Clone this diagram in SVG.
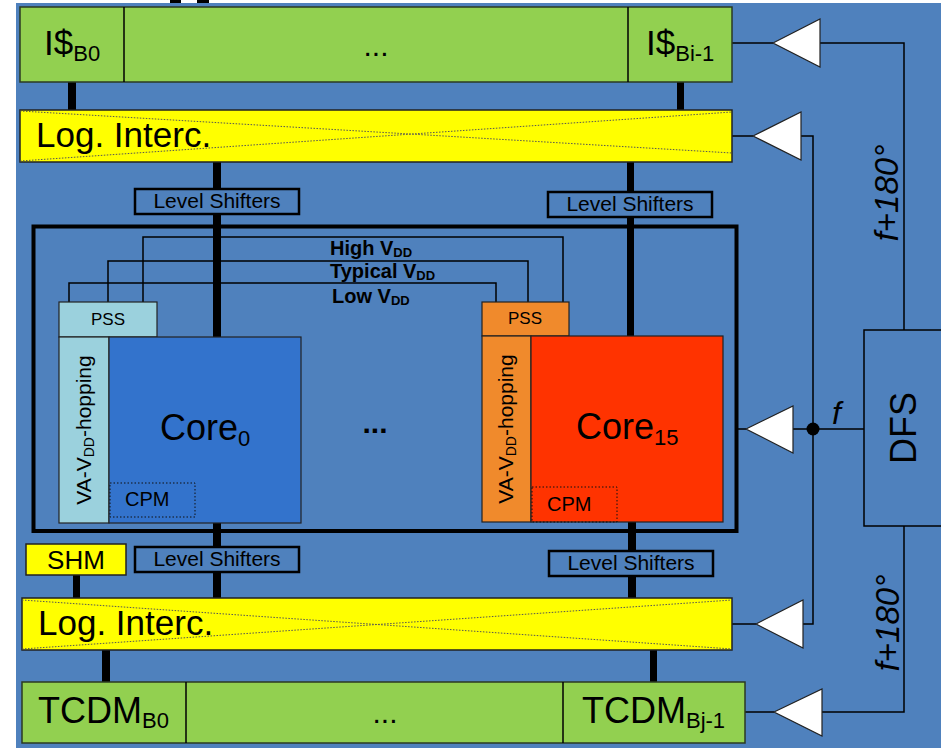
<svg xmlns="http://www.w3.org/2000/svg" width="941" height="748" viewBox="0 0 941 748">
<style>
text{font-family:"Liberation Sans",Arial,sans-serif;fill:#000}
.thin{stroke:#000;stroke-width:1.5;fill:none}
.bar{fill:#000}
.green{fill:#92d050;stroke:#2b3a22;stroke-width:1.5}
.yellow{fill:#ffff00;stroke:#222;stroke-width:1.5}
.dots{stroke:#555;stroke-width:1;stroke-dasharray:1.5 1.5;fill:none}
.ls{fill:#4f81bd;stroke:#000;stroke-width:2.5}
.tri{fill:#fff;stroke:#222;stroke-width:1.2}
.big{font-size:35px}
.sub{font-size:22px}
.lst{font-size:21px;text-anchor:middle}
.pw{font-size:20px;font-weight:bold}
.pws{font-size:13px;font-weight:bold}
.ital{font-style:italic;font-size:33px;text-anchor:middle}
</style>
<rect x="0" y="0" width="941" height="748" fill="#ffffff"/>
<rect x="16" y="3" width="925" height="745" fill="#4f81bd"/>
<rect x="170" y="0" width="11" height="3" fill="#000"/>
<rect x="197" y="0" width="12" height="3" fill="#000"/>

<g id="connectors">
  <rect class="bar" x="68" y="82" width="8" height="29"/>
  <rect class="bar" x="677" y="82" width="7" height="29"/>
  <rect class="bar" x="213" y="162" width="8" height="175"/>
  <rect class="bar" x="627" y="162" width="7" height="175"/>
  <rect class="bar" x="213" y="522" width="8" height="77"/>
  <rect class="bar" x="628" y="522" width="8" height="77"/>
  <rect class="bar" x="73" y="575" width="7" height="24"/>
  <rect class="bar" x="102" y="650" width="8" height="32"/>
  <rect class="bar" x="650" y="650" width="7" height="32"/>
  <polyline class="thin" points="69,302 69,283 496,283 496,302"/>
  <polyline class="thin" points="108,302 108,261 528,261 528,302"/>
  <polyline class="thin" points="143,302 143,237 563,237 563,302"/>
  <line class="thin" x1="732" y1="43" x2="773" y2="43"/>
  <polyline class="thin" points="820,43 904,43 904,330"/>
  <line class="thin" x1="732" y1="136" x2="753" y2="136"/>
  <polyline class="thin" points="801,136 813,136 813,624 803,624"/>
  <line class="thin" x1="732" y1="624" x2="756" y2="624"/>
  <line class="thin" x1="737" y1="429" x2="746" y2="429"/>
  <line class="thin" x1="793" y1="429" x2="864" y2="429"/>
  <circle cx="813" cy="429" r="6.5" fill="#000"/>
  <polyline class="thin" points="904,526 904,712 822,712"/>
  <line class="thin" x1="745" y1="712" x2="774" y2="712"/>
  <polygon class="tri" points="773,43 820,19 820,67"/>
  <polygon class="tri" points="753,136 801,112 801,160"/>
  <polygon class="tri" points="746,429 793,406 793,453"/>
  <polygon class="tri" points="756,624 803,600 803,648"/>
  <polygon class="tri" points="774,712 822,689 822,736"/>
  <text class="ital" transform="translate(898,193) rotate(-90)">f+180°</text>
  <text class="ital" transform="translate(899,623) rotate(-90)">f+180°</text>
  <text x="832" y="424" style="font-style:italic;font-size:32px">f</text>
</g>

<g id="icache">
  <rect class="green" x="20" y="7" width="712" height="75"/>
  <line class="thin" x1="124" y1="7" x2="124" y2="82" stroke="#2b3a22"/>
  <line class="thin" x1="628" y1="7" x2="628" y2="82" stroke="#2b3a22"/>
  <text class="big" x="44" y="55">I$<tspan class="sub" dy="6">B0</tspan></text>
  <text x="376" y="56" style="font-size:30px;text-anchor:middle">...</text>
  <text class="big" x="646" y="55">I$<tspan class="sub" dy="6">Bi-1</tspan></text>
</g>

<g id="logint-top">
  <rect class="yellow" x="20" y="110" width="712" height="52"/>
  <line class="dots" x1="20" y1="111" x2="732" y2="153"/>
  <line class="dots" x1="20" y1="161" x2="732" y2="112"/>
  <text class="big" x="36" y="147">Log. Interc.</text>
</g>

<g id="ls-top-left">
  <rect class="ls" x="135" y="189" width="164" height="25"/>
  <text class="lst" x="217" y="208">Level Shifters</text>
</g>
<g id="ls-top-right">
  <rect class="ls" x="548" y="192" width="164" height="25"/>
  <text class="lst" x="630" y="211">Level Shifters</text>
</g>

<g id="cluster">
  <rect x="33.5" y="226.5" width="703" height="304.5" fill="none" stroke="#000" stroke-width="4"/>
  <text class="pw" x="330" y="255">High V<tspan class="pws" dy="2">DD</tspan></text>
  <text class="pw" x="330" y="278">Typical V<tspan class="pws" dy="2">DD</tspan></text>
  <text class="pw" x="332" y="303">Low V<tspan class="pws" dy="2">DD</tspan></text>
  <text x="375" y="433" style="font-size:30px;font-weight:bold;text-anchor:middle">...</text>
</g>

<g id="core0">
  <rect x="59" y="302" width="98" height="35" fill="#9bd1dd" stroke="#222" stroke-width="1.2"/>
  <text x="108" y="325" style="font-size:17px;text-anchor:middle">PSS</text>
  <rect x="59" y="337" width="50" height="186" fill="#9bd1dd" stroke="#222" stroke-width="1.2"/>
  <text transform="translate(90.5,430) rotate(-90)" style="font-size:21px;text-anchor:middle">VA-V<tspan style="font-size:14px" dy="3">DD</tspan><tspan dy="-3">-hopping</tspan></text>
  <rect x="109" y="337" width="192" height="186" fill="#3373cc" stroke="#222" stroke-width="1.2"/>
  <rect x="110" y="483" width="85" height="34" fill="none" stroke="#111" stroke-width="1" stroke-dasharray="1.5 2"/>
  <text x="125" y="506" style="font-size:20px">CPM</text>
  <text x="160" y="440" style="font-size:36px">Core<tspan class="sub" dy="6">0</tspan></text>
</g>

<g id="core15">
  <rect x="482" y="302" width="87" height="34" fill="#f08a2c" stroke="#222" stroke-width="1.2"/>
  <text x="525" y="324" style="font-size:17px;text-anchor:middle">PSS</text>
  <rect x="482" y="336" width="49" height="186" fill="#f08a2c" stroke="#222" stroke-width="1.2"/>
  <text transform="translate(513,429) rotate(-90)" style="font-size:21px;text-anchor:middle">VA-V<tspan style="font-size:14px" dy="3">DD</tspan><tspan dy="-3">-hopping</tspan></text>
  <rect x="531" y="336" width="192" height="186" fill="#ff3300" stroke="#222" stroke-width="1.2"/>
  <rect x="532" y="487" width="85" height="35" fill="none" stroke="#111" stroke-width="1" stroke-dasharray="1.5 2"/>
  <text x="547" y="511" style="font-size:20px">CPM</text>
  <text x="576" y="439" style="font-size:36px">Core<tspan class="sub" dy="6">15</tspan></text>
</g>

<g id="dfs">
  <rect x="864" y="330" width="90" height="196" fill="none" stroke="#000" stroke-width="1.5"/>
  <text transform="translate(916,428) rotate(-90)" style="font-size:36px;text-anchor:middle">DFS</text>
</g>

<g id="shm">
  <rect class="yellow" x="26" y="544" width="100" height="31"/>
  <text x="76" y="569" style="font-size:26px;text-anchor:middle">SHM</text>
</g>

<g id="ls-bot-left">
  <rect class="ls" x="135" y="547" width="164" height="25"/>
  <text class="lst" x="217" y="566">Level Shifters</text>
</g>
<g id="ls-bot-right">
  <rect class="ls" x="549" y="551" width="164" height="25"/>
  <text class="lst" x="631" y="570">Level Shifters</text>
</g>

<g id="logint-bot">
  <rect class="yellow" x="22" y="598" width="710" height="52"/>
  <line class="dots" x1="22" y1="600" x2="732" y2="649"/>
  <line class="dots" x1="22" y1="649" x2="732" y2="600"/>
  <text class="big" x="38" y="635">Log. Interc.</text>
</g>

<g id="tcdm">
  <rect class="green" x="22" y="682" width="723" height="61"/>
  <line class="thin" x1="186" y1="682" x2="186" y2="743" stroke="#2b3a22"/>
  <line class="thin" x1="563" y1="682" x2="563" y2="743" stroke="#2b3a22"/>
  <text x="38" y="723" style="font-size:36px">TCDM<tspan class="sub" dy="5">B0</tspan></text>
  <text x="385" y="723" style="font-size:30px;text-anchor:middle">...</text>
  <text x="582" y="723" style="font-size:36px">TCDM<tspan class="sub" dy="5">Bj-1</tspan></text>
</g>
</svg>
